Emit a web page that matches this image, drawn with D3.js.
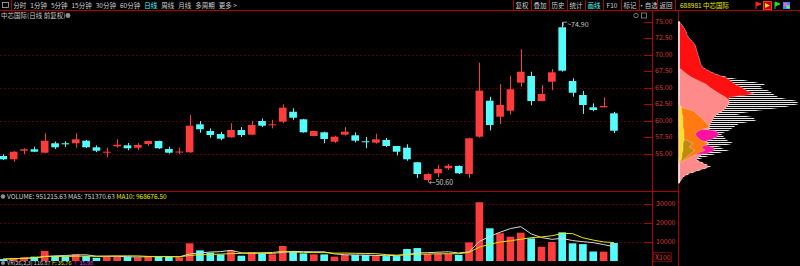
<!DOCTYPE html>
<html>
<head>
<meta charset="utf-8">
<script src="https://cdn.jsdelivr.net/npm/d3@7"></script>
<style>
html, body { margin: 0; padding: 0; background: #000; overflow: hidden; }
svg { display: block; }
text { font-family: "Noto Sans CJK SC", "Liberation Sans", sans-serif; }
</style>
</head>
<body>
<svg id="chart" width="800" height="266"></svg>
<script>
// daily bars, oldest first
const opens  = [54.62,54.12,55.42,55.64,55.12,56.55,56.55,56.55,56.94,55.94,55.15,56.09,56.24,55.88,56.44,56.89,55.68,55.15,55.18,59.42,
                58.41,57.95,57.45,58.56,57.85,59.92,59.27,59.82,61.33,60.18,57.65,58.21,56.79,57.85,57.76,56.85,56.64,57.05,56.14,55.88,
                53.67,50.98,52.00,52.76,53.11,51.90,57.55,63.00,60.58,61.48,65.73,66.74,62.95,65.88,74.12,65.98,63.86,62.00,62.00,61.09];
const highs  = [54.88,55.35,55.79,56.03,58.06,56.79,56.85,58.06,57.05,56.24,55.88,57.15,56.60,56.55,56.94,56.94,56.03,55.88,60.83,59.92,
                58.80,58.30,59.58,59.00,59.95,60.30,60.10,62.45,61.85,60.25,58.45,58.30,57.70,59.00,58.20,57.50,58.00,57.35,56.15,56.40,
                53.70,52.00,53.30,53.40,53.20,57.40,68.76,63.60,65.50,66.74,70.79,67.39,65.40,67.80,74.90,66.40,64.50,62.60,63.50,61.30];
const lows   = [54.02,53.76,54.92,55.20,55.05,55.68,56.00,55.88,55.85,55.20,54.42,55.88,55.50,55.50,56.15,55.70,54.98,54.92,55.10,58.15,
                57.40,57.00,57.40,57.50,57.85,59.00,58.80,59.58,60.10,58.15,57.60,56.55,56.60,57.70,56.70,55.80,56.50,56.00,54.70,53.90,
                51.30,50.60,51.40,52.50,51.90,51.30,57.40,58.50,59.47,60.90,65.12,62.30,62.90,64.60,67.40,63.60,61.00,61.40,62.00,58.10];
const closes = [54.12,55.27,55.64,55.27,56.94,55.94,56.39,57.15,55.94,55.42,55.27,56.33,55.79,56.29,56.89,55.79,55.12,55.30,59.21,58.67,
                57.80,57.24,58.56,57.80,59.32,59.21,59.42,61.94,60.42,58.21,58.41,57.20,57.55,58.30,56.94,56.70,57.15,56.14,55.27,54.12,
                51.89,51.89,52.65,53.15,52.00,57.30,64.52,59.32,62.35,64.73,67.39,62.95,64.02,67.30,67.55,64.21,62.35,61.59,62.20,58.45];
// volume in hundreds of shares (axis shows X100)
const volumes = [1000,1400,1900,2300,5300,2600,2300,3500,2600,1700,2300,2300,2300,1900,2600,2300,2300,1900,9300,5600,
                 4400,3500,5300,2800,4600,3900,3500,7900,5300,4000,3500,3500,2300,3200,3200,3200,2600,2600,2600,6300,
                 6800,3700,3700,3700,3200,9800,30900,17200,14600,12800,14900,11900,7500,10000,15100,9300,8900,5000,4900,9512];

const priceTicks = [75, 72.5, 70, 67.5, 65, 62.5, 60, 57.5, 55];
const priceGrid = [70, 65, 60, 55];
const volTicks = [30000, 20000, 10000];

// chip distribution on the right, price levels from top to bottom
const chipLevels = [75,74.5,74,73.5,73,72.5,72,71.5,71,70.5,70,69.5,69,68.5,68,67.5,67,66.5,66,65.5,65,64.5,64,63.5,63,
                    62.5,62,61.5,61,60.5,60,59.5,59,58.5,58,57.5,57,56.5,56,55.5,55,54.5,54,53.5,53,52.5,52,51.5,51,50.5];
const chipTotal   = [0,3,5,7,8,10,13,16,17,18,19,20,21,22,24,30,37,50,70,86,80,90,94,100,117,
                     120,105,80,57,74,77,60,55,50,42,45,48,55,38,50,38,27,18,26,32,22,12,5,2,0];
const chipRed     = [0,3,5,7,8,10,13,16,17,18,19,20,21,22,24,30,37,47,52,56,63,68,75,50,50,
                     50,47,44,38,35,33,31,30,30,28,28,28,28,26,25,24,20,17,24,30,20,10,4,2,0];
const chipPink    = [0,0,0,0,0,0,0,0,0,0,0,0,0,0,0,4,8,13,20,27,31,36,41,47,50,
                     50,47,44,38,35,33,31,30,30,28,28,28,28,26,25,24,20,17,24,30,20,10,4,2,0];
const chipMagenta = [0,0,0,0,0,0,0,0,0,0,0,0,0,0,0,0,0,0,0,0,0,0,0,0,0,
                     0,0,0,0,0,0,0,0,36,40,38,30,20,34,36,28,0,0,0,0,0,0,0,0,0];
const chipOrange  = [0,0,0,0,0,0,0,0,0,0,0,0,0,0,0,0,0,0,0,0,0,0,0,0,0,
                     0,2,14,18,22,25,28,31,20,16,18,22,30,22,26,18,12,6,0,0,0,0,0,0,0];
const chipBrown   = [0,0,0,0,0,0,0,0,0,0,0,0,0,0,0,0,0,0,0,0,0,0,0,0,0,
                     0,0,0,0,0,0,0,0,0,0,0,8,14,10,16,12,8,4,0,0,0,0,0,0,0];
const chipYellow  = [0,0,0,0,0,0,0,0,0,0,0,0,0,0,0,0,0,0,0,0,0,0,0,0,0,
                     0,2,3,3,4,4,4,4,5,5,5,5,4,4,4,3,3,2,0,0,0,0,0,0,0];

const periodTabs = ["分时", "1分钟", "5分钟", "15分钟", "30分钟", "60分钟", "日线", "周线", "月线", "多周期", "更多 >"];
const toolButtons = ["复权", "叠加", "历史", "统计", "画线", "F10", "标记", "•自选", "返回"];

const RED = "#ff3c3c", CYAN = "#54fcfc", AXIS = "#b00000", GRID = "#5a0000", LABEL = "#d83c3c";

const svg = d3.select("#chart");
svg.append("rect").attr("width", 800).attr("height", 266).attr("fill", "#000");

const idx = d3.range(opens.length);
const x = d3.scaleBand().domain(idx).range([-1.875, 619.125]).paddingInner(0.26).paddingOuter(0.13);
const cx = i => x(i) + x.bandwidth() / 2;
const y = d3.scaleLinear().domain([55, 75]).range([153.5, 21.5]);
const yv = d3.scaleLinear().domain([0, 30000]).range([261, 204]);
const up = i => closes[i] >= opens[i];

// ---- frame ----
svg.append("line").attr("x1", 0).attr("x2", 800).attr("y1", 10.5).attr("y2", 10.5).attr("stroke", AXIS);
svg.append("line").attr("x1", 11.5).attr("x2", 11.5).attr("y1", 0).attr("y2", 10).attr("stroke", AXIS);
svg.append("line").attr("x1", 0).attr("x2", 678).attr("y1", 191.5).attr("y2", 191.5).attr("stroke", AXIS);
[652.5, 678.5].forEach(v => svg.append("line").attr("x1", v).attr("x2", v).attr("y1", 11).attr("y2", 266).attr("stroke", AXIS));

// ---- toolbar ----
svg.append("rect").attr("x", 2.5).attr("y", 2.5).attr("width", 6).attr("height", 5).attr("fill", "none").attr("stroke", "#b0b0b0").attr("stroke-width", 0.8);
let tx = 13.3;
periodTabs.forEach(t => {
  const el = svg.append("text").attr("x", tx).attr("y", 7.6).attr("font-size", 6.5)
    .attr("fill", t === "日线" ? CYAN : "#d0d0d0").text(t);
  tx += el.node().getComputedTextLength() + 4;
});

const cellW = 18, cell0 = 513;
toolButtons.forEach((t, i) => {
  const x0 = cell0 + i * cellW;
  svg.append("line").attr("x1", x0 + 0.5).attr("x2", x0 + 0.5).attr("y1", 0).attr("y2", 10).attr("stroke", AXIS);
  svg.append("text").attr("x", x0 + cellW / 2).attr("y", 7.6).attr("font-size", 6.5).attr("text-anchor", "middle")
    .attr("fill", t === "画线" ? CYAN : "#d0d0d0").text(t);
});
svg.append("line").attr("x1", cell0 + toolButtons.length * cellW + 0.5).attr("x2", cell0 + toolButtons.length * cellW + 0.5)
  .attr("y1", 0).attr("y2", 10).attr("stroke", AXIS);
svg.append("text").attr("x", 680).attr("y", 7.6).attr("font-size", 6.5).attr("fill", "#e8e800").text("688981 中芯国际");

// little icons top right
svg.append("path").attr("d", "M756,2 L756,9 M756,2 L761,4 L756,6").attr("stroke", "#ff2020").attr("fill", "#ff2020");
svg.append("rect").attr("x", 763.5).attr("y", 1.5).attr("width", 8).attr("height", 8).attr("fill", "#c00000").attr("stroke", "#ff3030");
svg.append("path").attr("d", "M765,3 L770,5.5 L765,8 Z").attr("fill", "#ffe000");
svg.append("path").attr("d", "M775,2 L775,9 M775,2 L780,4 L775,6").attr("stroke", "#20e020").attr("fill", "#20e020");
svg.append("rect").attr("x", 783).attr("y", 2).attr("width", 7).attr("height", 7).attr("fill", "#5080ff");
svg.append("rect").attr("x", 784).attr("y", 3).attr("width", 3).attr("height", 3).attr("fill", "#ff60a0");
svg.append("rect").attr("x", 786.5).attr("y", 5.5).attr("width", 3).attr("height", 3).attr("fill", "#60ff60");

// title row
svg.append("text").attr("x", 1).attr("y", 17.6).attr("font-size", 6.5).attr("fill", "#c8c8c8").text("中芯国际(日线 前复权)");
svg.append("circle").attr("cx", 68).attr("cy", 15.5).attr("r", 2.4).attr("fill", "#909090");
svg.append("circle").attr("cx", 636).attr("cy", 15.5).attr("r", 2.2).attr("fill", "none").attr("stroke", "#909090").attr("stroke-width", 0.8);
svg.append("rect").attr("x", 641.5).attr("y", 13).attr("width", 5).attr("height", 5).attr("fill", "none").attr("stroke", "#909090").attr("stroke-width", 0.8);

// ---- price panel grid & axis ----
svg.append("g").selectAll("line").data(priceGrid).join("line")
  .attr("x1", 0).attr("x2", 652).attr("y1", d => Math.round(y(d)) + 0.5).attr("y2", d => Math.round(y(d)) + 0.5)
  .attr("stroke", GRID).attr("stroke-dasharray", "2,2");
const pAxis = svg.append("g");
pAxis.selectAll("line").data(priceTicks).join("line")
  .attr("x1", 644).attr("x2", 652).attr("y1", d => Math.round(y(d)) + 0.5).attr("y2", d => Math.round(y(d)) + 0.5)
  .attr("stroke", AXIS);
pAxis.selectAll("text").data(priceTicks).join("text")
  .attr("x", 655).attr("y", d => y(d) + 2.4).attr("font-size", 7).attr("fill", LABEL).text(d => d.toFixed(2));

// ---- candles ----
const cg = svg.append("g");
cg.selectAll("line").data(idx).join("line")
  .attr("x1", i => Math.round(cx(i)) + 0.5).attr("x2", i => Math.round(cx(i)) + 0.5)
  .attr("y1", i => y(highs[i])).attr("y2", i => y(lows[i]))
  .attr("stroke", i => up(i) ? RED : CYAN).attr("stroke-width", 1);
cg.selectAll("rect").data(idx).join("rect")
  .attr("x", i => x(i)).attr("width", x.bandwidth())
  .attr("y", i => y(Math.max(opens[i], closes[i])))
  .attr("height", i => Math.max(1, Math.abs(y(opens[i]) - y(closes[i]))))
  .attr("fill", i => up(i) ? RED : CYAN);

// high / low markers
const hiI = d3.maxIndex(highs), loI = d3.minIndex(lows);
svg.append("path").attr("d", `M${cx(hiI) + 1},${y(highs[hiI]) + 4} L${cx(hiI) + 1},${y(highs[hiI])} L${cx(hiI) + 5},${y(highs[hiI])}`)
  .attr("stroke", "#c8c8c8").attr("fill", "none").attr("stroke-width", 0.8);
svg.append("text").attr("x", cx(hiI) + 5).attr("y", y(highs[hiI]) + 4.5).attr("font-size", 7).attr("fill", "#c8c8c8")
  .text("~" + highs[hiI].toFixed(2));
svg.append("text").attr("x", cx(loI) + 1).attr("y", y(lows[loI]) + 2.5).attr("font-size", 7).attr("fill", "#c8c8c8")
  .text("←" + lows[loI].toFixed(2));

// ---- chip distribution ----
const defs = svg.append("defs");
const pat = defs.append("pattern").attr("id", "chipStripe").attr("patternUnits", "userSpaceOnUse").attr("width", 4).attr("height", 2);
pat.append("rect").attr("width", 4).attr("height", 1).attr("fill", "#e6e6e6");
const xc = d3.scaleLinear().domain([0, 120]).range([679, 799]);
const chipArea = arr => d3.area().y((d, i) => y(chipLevels[i])).x0(xc(0)).x1((d, i) => xc(arr[i]))(arr);
svg.append("path").attr("d", chipArea(chipTotal)).attr("fill", "url(#chipStripe)");
[[chipRed, "#ff1010"], [chipPink, "#ff8a8a"], [chipMagenta, "#ff10a0"], [chipOrange, "#ff7a10"], [chipBrown, "#c08a10"], [chipYellow, "#ffe020"]]
  .forEach(([arr, col]) => {
    svg.append("path").attr("d", chipArea(arr)).attr("fill", col)
      .attr("stroke", "#ffffff").attr("stroke-opacity", 0.6).attr("stroke-width", 0.5);
  });

// ---- volume panel ----
svg.append("g").selectAll("line").data(volTicks).join("line")
  .attr("x1", 0).attr("x2", 652).attr("y1", d => Math.round(yv(d)) + 0.5).attr("y2", d => Math.round(yv(d)) + 0.5)
  .attr("stroke", GRID).attr("stroke-dasharray", "2,2");
const vAxis = svg.append("g");
vAxis.selectAll("line").data(volTicks).join("line")
  .attr("x1", 644).attr("x2", 652).attr("y1", d => Math.round(yv(d)) + 0.5).attr("y2", d => Math.round(yv(d)) + 0.5)
  .attr("stroke", AXIS);
vAxis.selectAll("text").data(volTicks).join("text")
  .attr("x", 656).attr("y", d => yv(d) + 2.4).attr("font-size", 7).attr("fill", LABEL).text(d => d);
svg.append("rect").attr("x", 653.5).attr("y", 252.5).attr("width", 18).attr("height", 9).attr("fill", "none").attr("stroke", "#700000");
svg.append("text").attr("x", 655).attr("y", 259.5).attr("font-size", 7).attr("fill", LABEL).text("X100");

svg.append("g").selectAll("rect").data(idx).join("rect")
  .attr("x", i => x(i)).attr("width", x.bandwidth())
  .attr("y", i => yv(volumes[i])).attr("height", i => yv(0) - yv(volumes[i]))
  .attr("fill", i => up(i) ? RED : CYAN);

const ma = n => idx.map(i => d3.mean(volumes.slice(Math.max(0, i - n + 1), i + 1)));
const ma5 = ma(5), ma10 = ma(10);
const vline = d3.line().x((d, i) => cx(i)).y(d => yv(d));
svg.append("path").attr("d", vline(ma5)).attr("fill", "none").attr("stroke", "#d8d8d8").attr("stroke-width", 1);
svg.append("path").attr("d", vline(ma10)).attr("fill", "none").attr("stroke", "#e8e800").attr("stroke-width", 1);

svg.append("circle").attr("cx", 3).attr("cy", 196.5).attr("r", 2.3).attr("fill", "#909090");
const vl = svg.append("text").attr("x", 7).attr("y", 199).attr("font-size", 6.5);
vl.append("tspan").attr("fill", "#d0d0d0").text("VOLUME: 951215.63  MA5: 751370.63  ");
vl.append("tspan").attr("fill", "#e8e800").text("MA10: 968676.50");

// indicator line at the bottom edge
svg.append("circle").attr("cx", 3).attr("cy", 263).attr("r", 2).attr("fill", "#909090");
const bl = svg.append("text").attr("x", 7).attr("y", 265).attr("font-size", 5.5);
bl.append("tspan").attr("fill", "#d0d0d0").text("VR(26,2,3) 116.87  ");
bl.append("tspan").attr("fill", "#e8e800").text("F: 35.76  ");
bl.append("tspan").attr("fill", "#ff30ff").text("↑ 15.98");
</script>
</body>
</html>
